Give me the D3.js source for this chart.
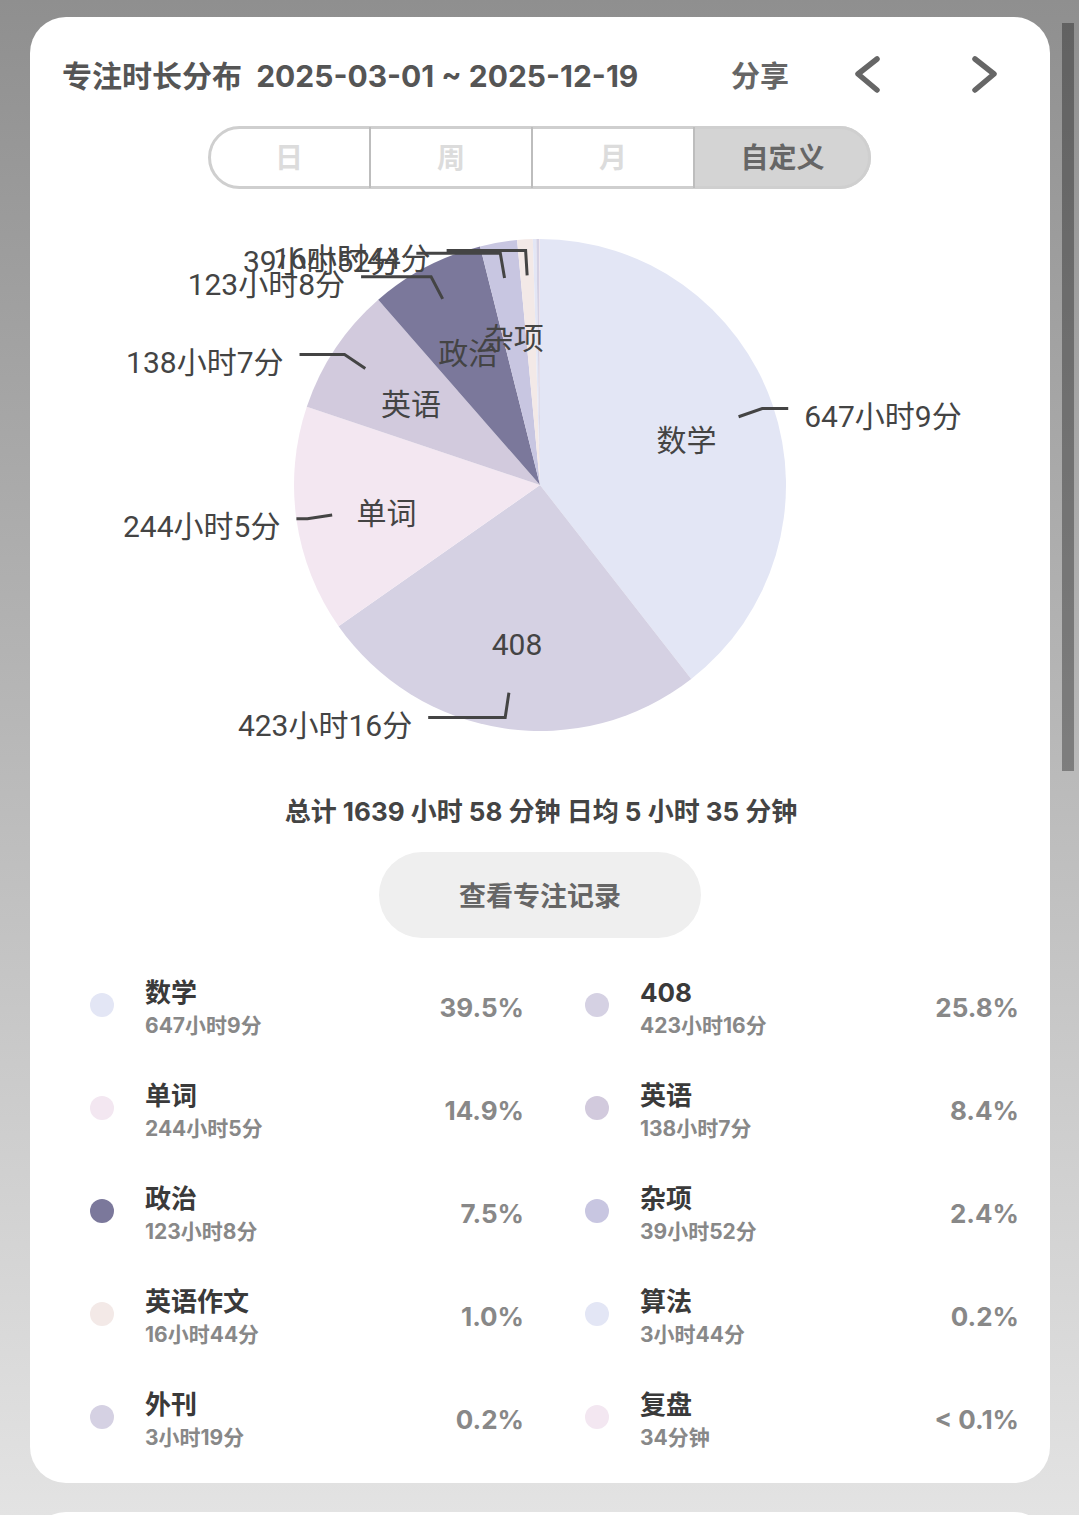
<!DOCTYPE html>
<html>
<head>
<meta charset="utf-8">
<script src="https://cdn.jsdelivr.net/npm/d3@7"></script>
<style>
  html, body { margin: 0; padding: 0; }
  body { width: 1079px; height: 1515px; overflow: hidden; }
</style>
</head>
<body>
<div id="chart"></div>
<script>
// subjects, focus minutes per subject
var names = ["数学", "408", "单词", "英语", "政治", "杂项", "英语作文", "算法", "外刊", "复盘"];
var minutes = [38829, 25396, 14645, 8287, 7388, 2392, 1004, 224, 199, 34];
var palette = ["#e3e6f5", "#d5d1e3", "#f3e7f1", "#d2cadd", "#7b789b", "#c8c6e1", "#f3e9e7"];
var tabs = ["日", "周", "月", "自定义"];
var dateFrom = "2025-03-01", dateTo = "2025-12-19";
// second segment of each label line
var leaderLen = [26, 77, 11, 45, 70, 84, 79];

function init(){
    var w = 1079, h = 1515;
    var cx = 540, cy = 485, R = 246;
    var uiFont = "Inter, 'Noto Sans CJK SC', sans-serif";
    var pieFont = "Roboto, 'Noto Sans CJK SC', sans-serif";

    var total = d3.sum(minutes);
    var days = Math.round((new Date(dateTo) - new Date(dateFrom)) / 864e5) + 1;
    var avg = Math.round(total / days);

    function fmt(m){
        if (m < 60) return m + "分钟";
        return Math.floor(m / 60) + "小时" + (m % 60) + "分";
    }
    function pct(m){
        var p = m / total * 100;
        return p < 0.1 ? "< 0.1%" : p.toFixed(1) + "%";
    }

    var svg = d3.select("#chart").append("svg")
        .attr("width", w).attr("height", h);

    var grad = svg.append("defs").append("linearGradient")
        .attr("id", "bg").attr("x1", 0).attr("y1", 0).attr("x2", 0).attr("y2", 1);
    grad.append("stop").attr("offset", 0).attr("stop-color", "#8f8f8f");
    grad.append("stop").attr("offset", 0.5).attr("stop-color", "#b9b9b9");
    grad.append("stop").attr("offset", 1).attr("stop-color", "#e3e3e3");

    svg.append("rect").attr("width", w).attr("height", h).attr("fill", "url(#bg)");
    svg.append("rect").attr("x", 30).attr("y", 1512).attr("width", 1020).attr("height", 100)
        .attr("rx", 36).attr("fill", "#fff");
    svg.append("rect").attr("x", 30).attr("y", 17).attr("width", 1020).attr("height", 1466)
        .attr("rx", 36).attr("fill", "#fff");
    // scrollbar
    svg.append("rect").attr("x", 1062).attr("y", 23).attr("width", 12).attr("height", 748)
        .attr("fill", "rgba(0,0,0,0.32)");

    // header
    svg.append("text").attr("x", 62).attr("y", 76)
        .attr("dominant-baseline", "central")
        .attr("font-family", uiFont).attr("font-weight", 700).attr("font-size", 30)
        .attr("fill", "#555")
        .text("专注时长分布  " + dateFrom + " ~ " + dateTo)
        .style("white-space", "pre");
    svg.append("text").attr("x", 760).attr("y", 76)
        .attr("text-anchor", "middle").attr("dominant-baseline", "central")
        .attr("font-family", uiFont).attr("font-weight", 700).attr("font-size", 29)
        .attr("fill", "#666").text("分享");
    var chev = d3.line();
    svg.append("path").attr("d", chev([[877, 59], [858, 74], [877, 90]]))
        .attr("fill", "none").attr("stroke", "#666").attr("stroke-width", 5.5)
        .attr("stroke-linecap", "round").attr("stroke-linejoin", "round");
    svg.append("path").attr("d", chev([[975, 59], [994, 74], [975, 90]]))
        .attr("fill", "none").attr("stroke", "#666").attr("stroke-width", 5.5)
        .attr("stroke-linecap", "round").attr("stroke-linejoin", "round");

    // segmented control (last tab runs to the right end)
    var segL = 208, segR = 871;
    var segX = d3.scaleBand().domain(tabs).range([segL, 856]);
    function segW(d){ return d === tabs[tabs.length - 1] ? segR - segX(d) : segX.bandwidth(); }
    var seg = svg.append("g");
    seg.append("clipPath").attr("id", "segclip").append("rect")
        .attr("x", segL).attr("y", 126).attr("width", segR - segL).attr("height", 63).attr("rx", 31.5);
    seg.append("rect").attr("x", segX("自定义")).attr("y", 126)
        .attr("width", segW("自定义")).attr("height", 63)
        .attr("fill", "#d4d4d4").attr("clip-path", "url(#segclip)");
    seg.append("rect").attr("x", segL + 1.5).attr("y", 127.5).attr("width", segR - segL - 3).attr("height", 60)
        .attr("rx", 30).attr("fill", "none").attr("stroke", "#cfcfcf").attr("stroke-width", 3);
    seg.selectAll("line.div").data(tabs.slice(1)).enter().append("line")
        .attr("x1", function(d){ return segX(d); }).attr("x2", function(d){ return segX(d); })
        .attr("y1", 127).attr("y2", 188).attr("stroke", "#bdbdbd").attr("stroke-width", 2);
    seg.selectAll("text").data(tabs).enter().append("text")
        .attr("x", function(d){ return segX(d) + segW(d) / 2; })
        .attr("y", 158).attr("text-anchor", "middle").attr("dominant-baseline", "central")
        .attr("font-family", uiFont).attr("font-weight", 700).attr("font-size", 28)
        .attr("fill", function(d){ return d === "自定义" ? "#666" : "#dcdcdc"; })
        .text(function(d){ return d; });

    // pie
    var color = d3.scaleOrdinal().domain(names).range(palette);
    var pie = d3.pie().sort(null).value(function(d){ return d.m; });
    var data = pie(names.map(function(n, i){ return {name: n, m: minutes[i], i: i}; }));
    var arc = d3.arc().innerRadius(0).outerRadius(R);
    var g = svg.append("g").attr("transform", "translate(" + cx + "," + cy + ")");

    g.selectAll("path.slice").data(data).enter().append("path")
        .attr("class", "slice")
        .attr("d", arc)
        .attr("fill", function(d){ return color(d.data.name); });

    function mid(d){ return (d.startAngle + d.endAngle) / 2; }
    function pt(a, r){ return [Math.sin(a) * r, -Math.cos(a) * r]; }

    var outer = data.filter(function(d){ return d.data.m / total >= 0.01; });
    var inner = data.filter(function(d){ return d.data.m / total >= 0.02; });

    var line = d3.line();
    g.selectAll("path.leader").data(outer).enter().append("path")
        .attr("class", "leader")
        .attr("fill", "none").attr("stroke", "#444").attr("stroke-width", 3)
        .attr("d", function(d){
            var a = mid(d), p1 = pt(a, 210), p2 = pt(a, 235);
            var dir = Math.sin(a) >= 0 ? 1 : -1;
            return line([p1, p2, [p2[0] + dir * leaderLen[d.data.i], p2[1]]]);
        });

    g.selectAll("text.outer").data(outer).enter().append("text")
        .attr("class", "outer")
        .attr("x", function(d){
            var a = mid(d), p2 = pt(a, 235), dir = Math.sin(a) >= 0 ? 1 : -1;
            return p2[0] + dir * (leaderLen[d.data.i] + 16);
        })
        .attr("y", function(d){ return pt(mid(d), 235)[1] + 8; })
        .attr("text-anchor", function(d){ return Math.sin(mid(d)) >= 0 ? "start" : "end"; })
        .attr("dominant-baseline", "central")
        .attr("font-family", pieFont).attr("font-size", 30).attr("fill", "#444")
        .text(function(d){ return fmt(d.data.m); });

    g.selectAll("text.inner").data(inner).enter().append("text")
        .attr("class", "inner")
        .attr("x", function(d){ return pt(mid(d), 155)[0]; })
        .attr("y", function(d){ return pt(mid(d), 155)[1] + 6; })
        .attr("text-anchor", "middle").attr("dominant-baseline", "central")
        .attr("font-family", pieFont).attr("font-size", 30).attr("fill", "#444")
        .text(function(d){ return d.data.name; });

    // summary
    svg.append("text").attr("x", 541).attr("y", 811)
        .attr("text-anchor", "middle").attr("dominant-baseline", "central")
        .attr("font-family", uiFont).attr("font-weight", 700).attr("font-size", 26)
        .attr("fill", "#444")
        .text("总计 " + Math.floor(total / 60) + " 小时 " + (total % 60) + " 分钟 日均 " +
              Math.floor(avg / 60) + " 小时 " + (avg % 60) + " 分钟");

    svg.append("rect").attr("x", 379).attr("y", 852).attr("width", 322).attr("height", 86)
        .attr("rx", 43).attr("fill", "#efefef");
    svg.append("text").attr("x", 540).attr("y", 896)
        .attr("text-anchor", "middle").attr("dominant-baseline", "central")
        .attr("font-family", uiFont).attr("font-weight", 700).attr("font-size", 27)
        .attr("fill", "#666").text("查看专注记录");

    // legend
    var colX = d3.scaleOrdinal().domain([0, 1]).range([102, 597]);
    var rowY = d3.scaleLinear().domain([0, 4]).range([1005, 1417]);
    var items = svg.selectAll("g.item").data(names).enter().append("g")
        .attr("class", "item")
        .attr("transform", function(d, i){
            return "translate(" + colX(i % 2) + "," + rowY(Math.floor(i / 2)) + ")";
        });
    items.append("circle").attr("r", 12)
        .attr("fill", function(d){ return color(d); });
    items.append("text").attr("x", 43).attr("y", -13)
        .attr("dominant-baseline", "central")
        .attr("font-family", uiFont).attr("font-weight", 700).attr("font-size", 26)
        .attr("fill", "#3a3a3a").text(function(d){ return d; });
    items.append("text").attr("x", 43).attr("y", 20)
        .attr("dominant-baseline", "central")
        .attr("font-family", uiFont).attr("font-weight", 700).attr("font-size", 21)
        .attr("fill", "#888").text(function(d, i){ return fmt(minutes[i]); });
    items.append("text").attr("x", 422).attr("y", 2)
        .attr("text-anchor", "end").attr("dominant-baseline", "central")
        .attr("font-family", uiFont).attr("font-weight", 700).attr("font-size", 26)
        .attr("fill", "#888").text(function(d, i){ return pct(minutes[i]); });
}

window.onload = init;
</script>
</body>
</html>
